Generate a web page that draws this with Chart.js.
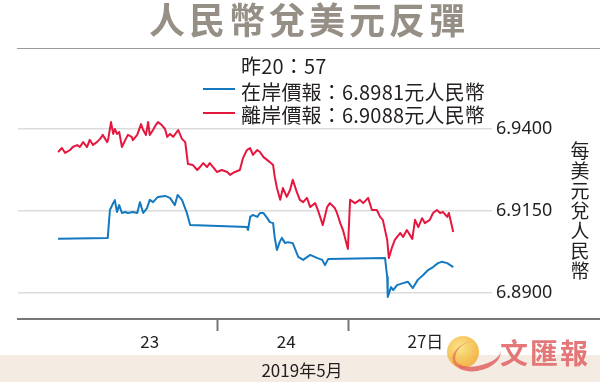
<!DOCTYPE html>
<html><head><meta charset="utf-8">
<script src="https://cdn.jsdelivr.net/npm/chart.js@4.4.1/dist/chart.umd.min.js"></script>
<style>
html,body{margin:0;padding:0;background:#fff;overflow:hidden;}
#wrap{position:relative;width:600px;height:382px;font-family:"Noto Sans CJK TC","Noto Sans",sans-serif;color:#231f20;}
#band{position:absolute;left:0;top:355px;width:600px;height:27px;background:#f4ebe3;}
canvas{position:absolute;left:0;top:0;}
.t{position:absolute;white-space:nowrap;}
#title{left:149px;top:0px;font-size:36px;line-height:36px;font-weight:700;color:#958f86;letter-spacing:4px;}
#rule{position:absolute;left:17px;top:48px;width:583px;height:0;border-top:1.5px solid #9a9a9a;}
.lg{font-size:20px;line-height:22px;letter-spacing:0.2px;}
.sw{position:absolute;width:32px;height:0;}
#vlab{position:absolute;left:570px;top:140px;width:20px;font-size:19px;line-height:20px;text-align:center;}
#month{left:0;width:604px;text-align:center;top:359px;font-size:17px;line-height:22px;}
#logo{position:absolute;left:447px;top:336px;width:32px;height:32px;border-radius:50%;background:radial-gradient(circle at 40% 35%,#fbe27a,#f3b13a 70%,#ec9a2a);opacity:0.9;}
#swoosh{position:absolute;left:452px;top:340px;width:46px;height:26px;border-radius:50%;border-bottom:5px solid rgba(226,90,90,0.8);border-left:3px solid rgba(226,90,90,0.6);transform:rotate(-12deg);}
#logotxt{left:500px;top:336px;font-size:28px;line-height:32px;font-weight:700;color:#e26a6a;letter-spacing:2px;opacity:0.9;}
</style></head>
<body><div id="wrap">
<div id="band"></div>
<canvas id="c" width="600" height="382"></canvas>
<div class="t" id="title">人民幣兌美元反彈</div>
<div id="rule"></div>
<div class="t lg" style="left:241px;top:55px;">昨20：57</div>
<div class="sw" style="left:203px;top:88px;border-top:2px solid #1479c0;"></div>
<div class="t lg" style="left:241px;top:81px;">在岸價報：6.8981元人民幣</div>
<div class="sw" style="left:203px;top:112px;border-top:2px solid #e5173f;"></div>
<div class="t lg" style="left:241px;top:104px;">離岸價報：6.9088元人民幣</div>
<div id="vlab">每<br>美<br>元<br>兌<br>人<br>民<br>幣</div>
<div class="t" id="month">2019年5月</div>
<div id="logo"></div>
<div id="swoosh"></div>
<div class="t" id="logotxt">文匯報</div>
</div>
<script>
// hours from 23 May 00:00 (weekend skipped: 27 May 00:00 = 48)
const onHours = [-5.3,3.8,4.2,4.8,5.1,5.5,5.9,6.4,7.0,7.5,8.4,9.2,9.7,10.3,11.0,11.5,12.1,13.0,14.3,15.2,16.1,16.6,17.4,18.3,18.9,29.3,29.5,29.9,30.4,31.2,31.7,32.3,33.0,33.5,34.1,34.4,34.8,35.3,35.7,36.3,36.8,37.7,38.7,39.6,40.9,42.1,43.1,43.6,44.2,54.6,55.0,55.1,55.7,56.1,56.8,57.9,58.8,59.7,60.6,61.6,62.5,63.4,64.3,65.0,66.0,67.1];
const onValues = [6.9065,6.9068,6.9153,6.9174,6.9183,6.9147,6.9168,6.9144,6.9147,6.9144,6.9147,6.9144,6.9177,6.9144,6.9159,6.9184,6.9177,6.9193,6.9196,6.9190,6.9168,6.9199,6.9184,6.9144,6.9107,6.9101,6.9092,6.9132,6.9138,6.9132,6.9144,6.9144,6.9129,6.9116,6.9113,6.9068,6.9031,6.9055,6.9068,6.9052,6.9055,6.9052,6.9010,6.9001,6.9016,6.9007,6.9001,6.8985,6.9004,6.9007,6.8949,6.8888,6.8918,6.8909,6.8924,6.8930,6.8934,6.8915,6.8940,6.8955,6.8970,6.8979,6.8991,6.8995,6.8991,6.8979];
const offHours = [-5.3,-4.6,-4.0,-3.1,-2.6,-1.8,-1.3,-0.7,0.0,0.5,1.1,1.8,
  2.4,2.9,3.7,3.9,4.4,4.8,5.1,5.5,5.9,6.4,7.0,7.5,8.2,8.4,9.2,9.9,10.3,10.8,11.2,11.5,12.1,12.6,13.0,13.7,14.3,14.7,15.2,15.8,16.7,17.4,18.0,18.5,19.4,
  20.2,20.7,21.3,22.0,22.5,23.1,23.8,24.7,25.7,26.2,27.1,28.0,28.6,29.3,29.9,30.4,31.2,31.7,32.3,33.5,34.1,34.4,34.8,35.4,35.9,36.6,37.2,37.7,38.5,39.0,39.6,40.3,40.9,41.8,42.3,43.2,44.0,44.5,45.4,45.8,46.4,46.9,47.8,48.2,49.1,50.0,50.6,51.5,52.2,53.1,53.7,54.2,55.0,55.3,55.9,56.4,57.4,57.9,58.6,59.6,60.1,60.7,61.4,61.9,62.8,63.4,64.1,64.7,65.2,66.0,66.3,67.1];
const offValues = [6.9330,6.9342,6.9327,6.9336,6.9345,6.9351,6.9345,6.9360,6.9345,6.9367,6.9351,6.9360,
  6.9370,6.9382,6.9360,6.9370,6.9421,6.9385,6.9400,6.9385,6.9391,6.9345,6.9366,6.9382,6.9376,6.9366,6.9382,6.9415,6.9397,6.9382,6.9421,6.9382,6.9397,6.9412,6.9421,6.9412,6.9400,6.9376,6.9385,6.9376,6.9397,6.9370,6.9360,6.9293,6.9290,
  6.9275,6.9284,6.9296,6.9284,6.9296,6.9284,6.9269,6.9275,6.9269,6.9260,6.9269,6.9275,6.9312,6.9336,6.9342,6.9321,6.9336,6.9330,6.9315,6.9299,6.9290,6.9254,6.9220,6.9184,6.9220,6.9193,6.9214,6.9245,6.9205,6.9184,6.9177,6.9190,6.9162,6.9174,6.9153,6.9107,6.9162,6.9174,6.9159,6.9144,6.9113,6.9092,6.9034,6.9184,6.9174,6.9184,6.9174,6.9190,6.9153,6.9153,6.9132,6.9123,6.9062,6.9007,6.9040,6.9062,6.9083,6.9071,6.9092,6.9065,6.9123,6.9101,6.9128,6.9113,6.9123,6.9144,6.9153,6.9144,6.9147,6.9132,6.9144,6.9086];
const yTicks = [6.8900, 6.9150, 6.9400];
const dayBoundaries = [24, 48];
const dayLabelPos = [11.5, 36.5, 62];
const dayLabels = ['23', '24', '27日'];

const toPts = (hs, vs) => hs.map((h, i) => ({x: h, y: vs[i]}));

const axisLine = {
  id: 'axisLine',
  afterDraw(chart) {
    const c = chart.ctx, y = chart.chartArea.bottom;
    c.save();
    c.strokeStyle = '#777';
    c.lineWidth = 2;
    c.beginPath(); c.moveTo(17, y); c.lineTo(600, y); c.stroke();
    c.restore();
  }
};

new Chart(document.getElementById('c'), {
  type: 'line',
  data: {
    datasets: [
      {label: '在岸價報', data: toPts(onHours, onValues), borderColor: '#1479c0', borderWidth: 2, pointRadius: 0, tension: 0, borderJoinStyle: 'round'},
      {label: '離岸價報', data: toPts(offHours, offValues), borderColor: '#e5173f', borderWidth: 2, pointRadius: 0, tension: 0, borderJoinStyle: 'round'}
    ]
  },
  options: {
    responsive: false,
    animation: false,
    devicePixelRatio: 1,
    layout: {padding: {left: 18, top: 100, right: 0, bottom: 0}},
    plugins: {legend: {display: false}, tooltip: {enabled: false}},
    scales: {
      x: {
        type: 'linear',
        min: -12.64, max: 74.2,
        afterBuildTicks: s => { s.ticks = [...dayLabelPos, ...dayBoundaries].sort((a,b)=>a-b).map(v => ({value: v})); },
        afterFit: s => { s.height = 63; },
        border: {display: false},
        grid: {
          drawOnChartArea: false, drawTicks: true, tickLength: 12, tickWidth: 2,
          tickColor: ctx => (ctx.tick && dayBoundaries.includes(ctx.tick.value)) ? '#777' : 'rgba(0,0,0,0)'
        },
        ticks: {
          autoSkip: false, maxRotation: 0, padding: 0, color: '#231f20',
          font: {family: '"Noto Sans CJK TC","Noto Sans",sans-serif', size: 17},
          callback: v => { const i = dayLabelPos.indexOf(v); return i >= 0 ? dayLabels[i] : ''; }
        }
      },
      y: {
        position: 'right',
        min: 6.88207, max: 6.94884,
        afterBuildTicks: s => { s.ticks = yTicks.map(v => ({value: v})); },
        afterFit: s => { s.width = 108; },
        border: {display: false},
        grid: {color: '#dcdcdc', lineWidth: 1.5, drawTicks: false},
        ticks: {
          padding: 4, color: '#231f20',
          font: {family: '"Noto Sans","Liberation Sans",sans-serif', size: 18},
          callback: v => Number(v).toFixed(4)
        }
      }
    }
  },
  plugins: [axisLine]
});
</script>
</body></html>
